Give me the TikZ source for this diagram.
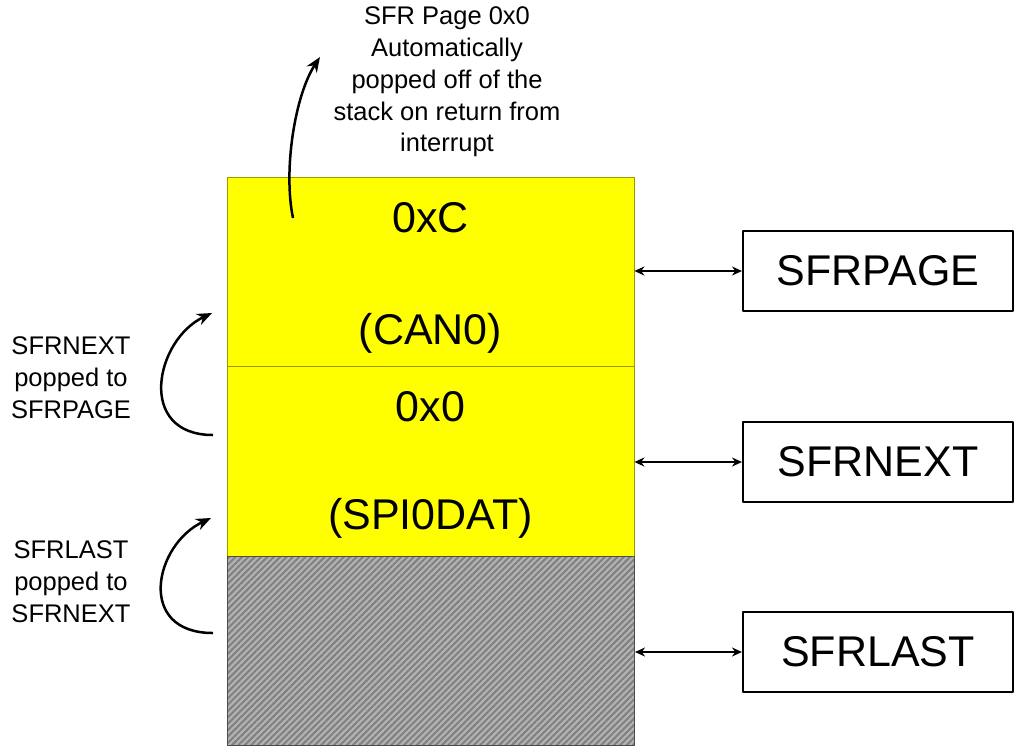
\documentclass[tikz,border=0pt]{standalone}
\usepackage{fontspec}
\setmainfont{Liberation Sans}
\usetikzlibrary{arrows.meta,patterns.meta,calc}
\definecolor{cellyellow}{RGB}{255,255,0}
\begin{document}
\begin{tikzpicture}[x=1pt,y=-1pt,line join=round,>=Stealth,
	cell/.style={draw=cellyellow!60!black,line width=0.8pt,minimum width=407pt,minimum height=189.5pt,inner sep=0pt},
	bigtxt/.style={font=\fontsize{43}{50}\selectfont,inner sep=0pt},
	regbox/.style={draw,line width=2pt,minimum width=270pt,minimum height=80pt,inner sep=0pt,font=\fontsize{43}{50}\selectfont},
	note/.style={align=center,inner sep=0pt,font=\fontsize{25.5}{31.8}\selectfont},
	link/.style={<->,line width=1.8pt,>={Stealth[length=10pt,width=9pt]}},
	pop/.style={->,line width=2.5pt,>={Stealth[length=15pt,width=12pt]}}]
	\useasboundingbox (0,0) rectangle (1016,748);
	%%% stack
	\node[cell,fill=cellyellow] (cellC) at (430.5,272) {};
	\node[cell,fill=cellyellow] (cell0) at (430.5,461.5) {};
	\node[cell,draw=gray!60!black,preaction={fill=gray!60},pattern={Lines[angle=45,distance=4.5pt,line width=2pt]},pattern color=gray] (cellL) at (430.5,651) {};
	\node[bigtxt] (valC) at (430.5,218) {0xC};
	\node[bigtxt] (nameC) at (430.5,333) {(CAN0)};
	\node[bigtxt] (val0) at (430.5,407) {0x0};
	\node[bigtxt] (name0) at (430.5,518) {(SPI0DAT)};
	%%% registers
	\node[regbox] (rpage) at (878,271) {SFRPAGE};
	\node[regbox] (rnext) at (878,462) {SFRNEXT};
	\node[regbox] (rlast) at (878,652) {SFRLAST};
	\foreach \r/\c in {rpage/cellC,rnext/cell0,rlast/cellL}
	\draw[link] (\r.west -| \c.east) -- (\r.west);
	%%% notes
	\node[note] (topnote) at (447,82) {SFR Page 0x0\\Automatically\\popped off of the\\stack on return from\\interrupt};
	\node[note] (nextnote) at (71,378) {SFRNEXT\\popped to\\SFRPAGE};
	\node[note] (lastnote) at (71,582) {SFRLAST\\popped to\\SFRNEXT};
	\coordinate (topS) at (293,218);
	\coordinate (topE) at (320,57);
	\coordinate (nextS) at (213,435);
	\coordinate (nextE) at (212,313);
	\coordinate (lastS) at (213,633);
	\coordinate (lastE) at (211,518);
	\draw[pop] (topS) .. controls +(-10,-48) and +(-25,38) .. (topE);
	\draw[pop] (nextS) .. controls +(-77,0) and +(-57,27) .. (nextE);
	\draw[pop] (lastS) .. controls +(-77,0) and +(-57,27) .. (lastE);
\end{tikzpicture}
\end{document}
